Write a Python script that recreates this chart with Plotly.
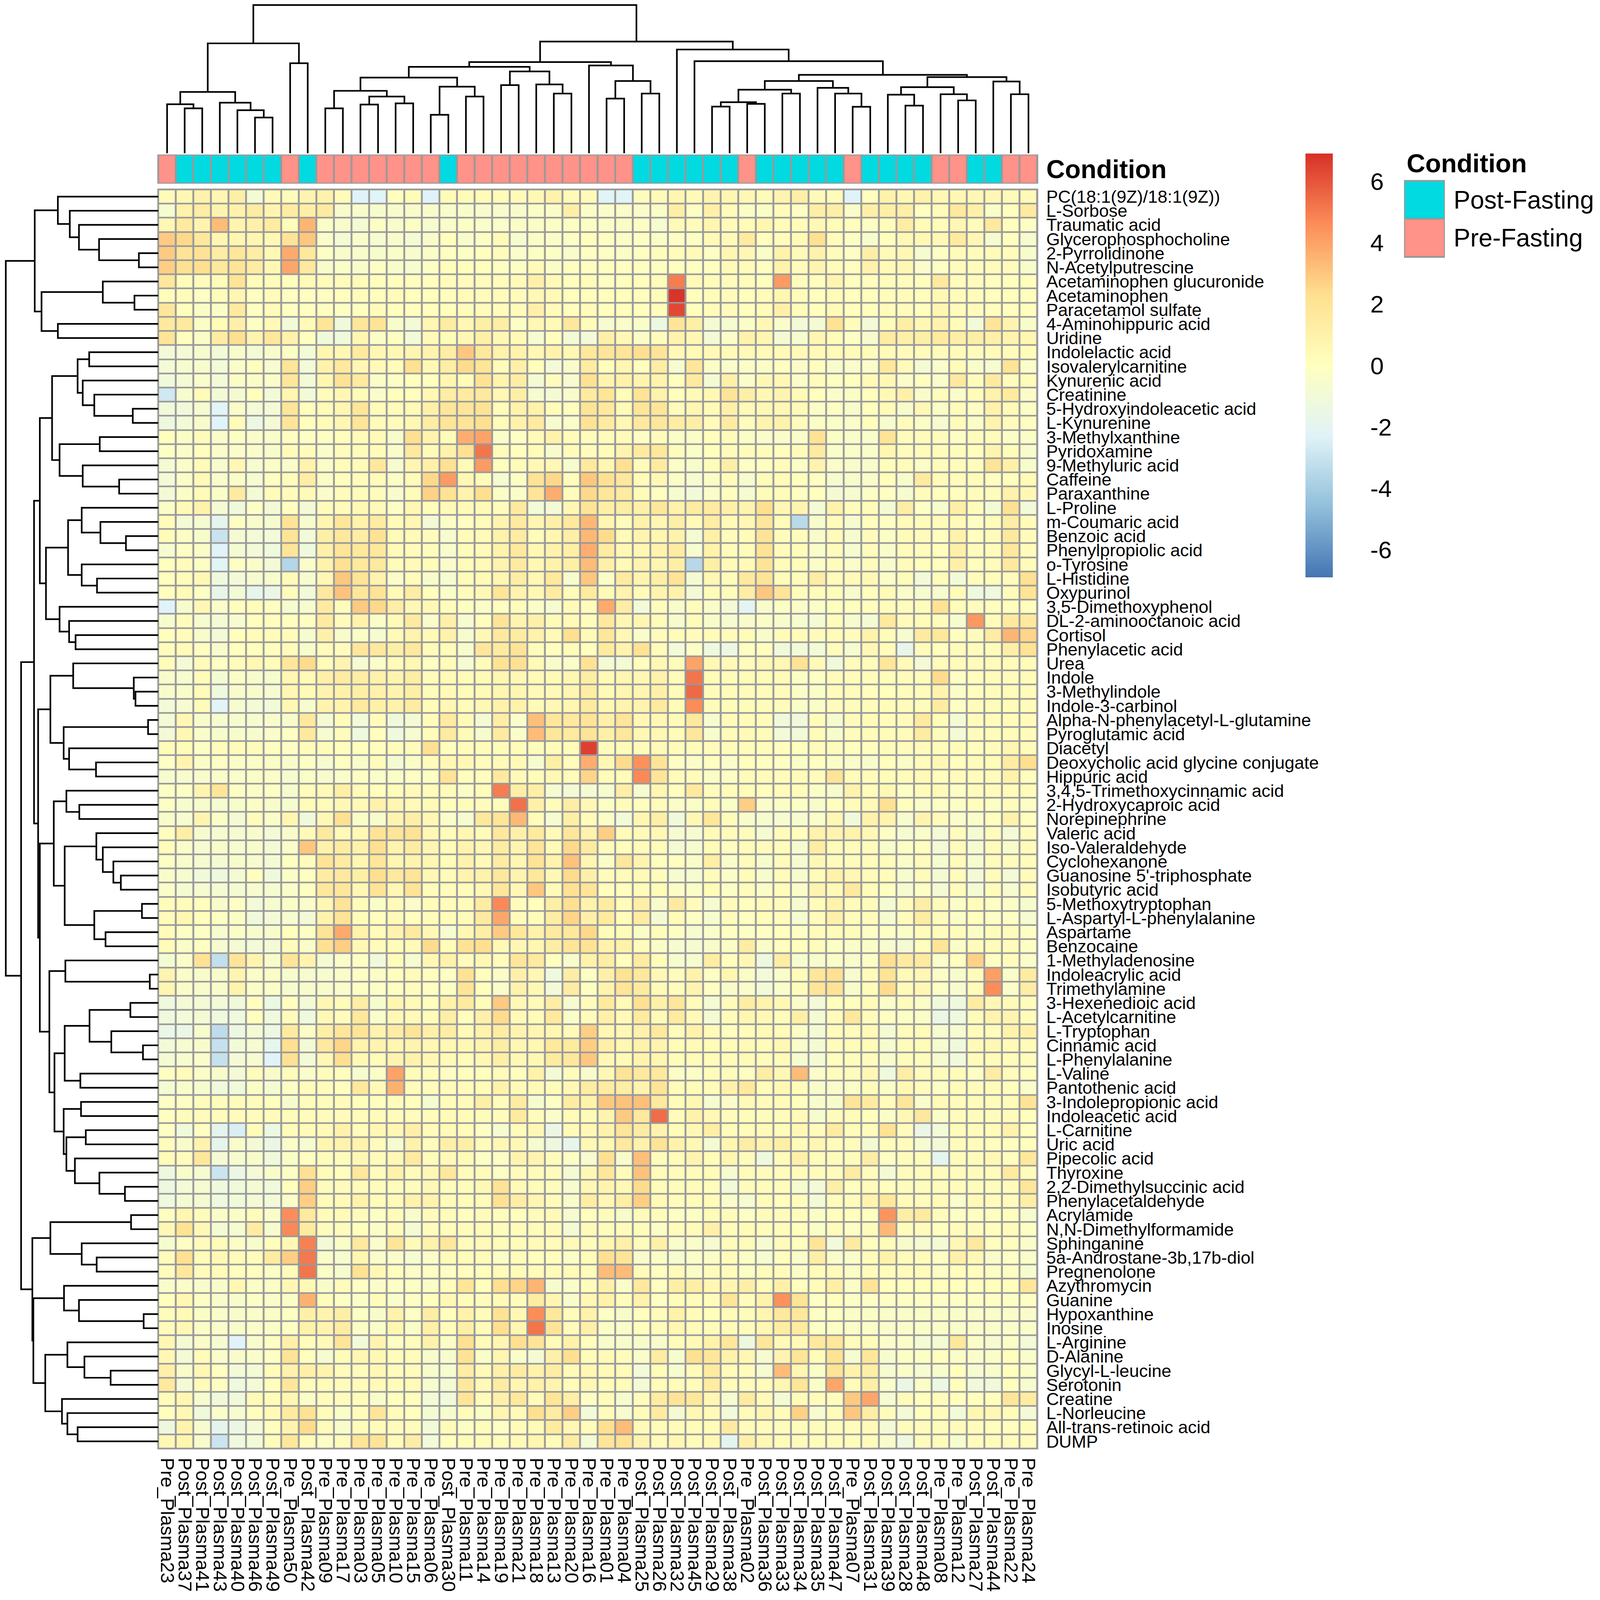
import plotly.graph_objects as go

# reference size, positions below are read in these pixels
W, H = 4316, 4466
# the browser window stops at 4096x4096, so the whole chart is fitted into that
PAGE_W, PAGE_H = 4096, 4096
FONT = "Liberation Sans"
GREY = "#999999"

columns = ["Pre_Plasma23", "Post_Plasma37", "Post_Plasma41", "Post_Plasma43", "Post_Plasma40", "Post_Plasma46", "Post_Plasma49", "Pre_Plasma50", "Post_Plasma42", "Pre_Plasma09",
           "Pre_Plasma17", "Pre_Plasma03", "Pre_Plasma05", "Pre_Plasma10", "Pre_Plasma15", "Pre_Plasma06", "Post_Plasma30", "Pre_Plasma11", "Pre_Plasma14", "Pre_Plasma19",
           "Pre_Plasma21", "Pre_Plasma18", "Pre_Plasma13", "Pre_Plasma20", "Pre_Plasma16", "Pre_Plasma01", "Pre_Plasma04", "Post_Plasma25", "Post_Plasma26", "Post_Plasma32",
           "Post_Plasma45", "Post_Plasma29", "Post_Plasma38", "Pre_Plasma02", "Post_Plasma36", "Post_Plasma33", "Post_Plasma34", "Post_Plasma35", "Post_Plasma47", "Pre_Plasma07",
           "Post_Plasma31", "Post_Plasma39", "Post_Plasma28", "Post_Plasma48", "Pre_Plasma08", "Pre_Plasma12", "Post_Plasma27", "Post_Plasma44", "Pre_Plasma22", "Pre_Plasma24"]

metabolites = ["PC(18:1(9Z)/18:1(9Z))", "L-Sorbose", "Traumatic acid", "Glycerophosphocholine", "2-Pyrrolidinone", "N-Acetylputrescine",
               "Acetaminophen glucuronide", "Acetaminophen", "Paracetamol sulfate", "4-Aminohippuric acid", "Uridine", "Indolelactic acid",
               "Isovalerylcarnitine", "Kynurenic acid", "Creatinine", "5-Hydroxyindoleacetic acid", "L-Kynurenine", "3-Methylxanthine",
               "Pyridoxamine", "9-Methyluric acid", "Caffeine", "Paraxanthine", "L-Proline", "m-Coumaric acid", "Benzoic acid",
               "Phenylpropiolic acid", "o-Tyrosine", "L-Histidine", "Oxypurinol", "3,5-Dimethoxyphenol", "DL-2-aminooctanoic acid", "Cortisol",
               "Phenylacetic acid", "Urea", "Indole", "3-Methylindole", "Indole-3-carbinol", "Alpha-N-phenylacetyl-L-glutamine",
               "Pyroglutamic acid", "Diacetyl", "Deoxycholic acid glycine conjugate", "Hippuric acid", "3,4,5-Trimethoxycinnamic acid",
               "2-Hydroxycaproic acid", "Norepinephrine", "Valeric acid", "Iso-Valeraldehyde", "Cyclohexanone", "Guanosine 5'-triphosphate",
               "Isobutyric acid", "5-Methoxytryptophan", "L-Aspartyl-L-phenylalanine", "Aspartame", "Benzocaine", "1-Methyladenosine",
               "Indoleacrylic acid", "Trimethylamine", "3-Hexenedioic acid", "L-Acetylcarnitine", "L-Tryptophan", "Cinnamic acid",
               "L-Phenylalanine", "L-Valine", "Pantothenic acid", "3-Indolepropionic acid", "Indoleacetic acid", "L-Carnitine", "Uric acid",
               "Pipecolic acid", "Thyroxine", "2,2-Dimethylsuccinic acid", "Phenylacetaldehyde", "Acrylamide", "N,N-Dimethylformamide",
               "Sphinganine", "5a-Androstane-3b,17b-diol", "Pregnenolone", "Azythromycin", "Guanine", "Hypoxanthine", "Inosine", "L-Arginine",
               "D-Alanine", "Glycyl-L-leucine", "Serotonin", "Creatine", "L-Norleucine", "All-trans-retinoic acid", "DUMP"]

# values, one line per metabolite, same order as columns
values = [
[.3,.6,1,.7,1.2,-.8,.4,.2,.8,1,.3,-2.3,-2.2,.1,.3,-2.3,.3,.3,.3,.3,.4,.5,1,.4,.4,-2.2,-2.2,.2,.4,.7,.4,.8,.7,.6,.3,.8,1.2,.4,.3,-2.3,.1,1,.6,1,.5,.6,.6,.6,.4,.4],
[-.7,1,1.3,.8,1,1.4,.8,1.4,1.2,1.5,-.5,-.5,-.5,-.5,-.5,-.5,-.5,-.5,-.5,-.5,-.5,-.3,-.3,1.2,-.3,-.4,-.4,-.4,-.3,1.2,-.2,1.1,.3,-.3,-.3,.2,-.2,1.2,1.2,-.4,1.2,1.2,1.2,-.1,.3,1.6,1.1,-.3,.1,1.5],
[.6,1.5,.8,3.3,.8,1.1,1.4,.2,3.5,-.3,-.5,-.8,-.2,-.5,-.2,-.6,-.4,-.2,-.4,-.4,-.3,-.3,-.2,-.2,-.2,-.3,-.3,-.2,-.7,.4,.2,.7,.3,.3,.7,.3,.2,.5,.3,.1,-.2,.2,1.3,.3,.2,.6,.2,1.6,.1,-.2],
[2.9,2.5,1.7,.7,.7,.7,.5,2,3,-.4,-.8,-.4,-.7,-.5,-.8,-.5,.1,-.5,-.2,.4,-.6,-.3,-.3,-.2,.1,-.1,-.3,-.2,-.3,-.2,-.2,.4,.4,1.5,.1,.2,.4,2.2,.2,-.2,-.5,.1,.5,.5,.5,1.5,.6,-.6,.1,-.6],
[2.9,2,2.1,1.3,1.8,1.3,.5,3.8,1.7,-.2,-.5,-.5,-.5,-.3,-.5,-.3,-.1,-.2,.1,.2,-.4,-.2,-.2,-.5,-.1,-.2,-.3,-.1,.2,.2,.4,-.2,.7,.5,-.3,1,.4,1,.2,-.2,1.2,.4,.6,-.6,-.2,.3,.2,.3,.3,-.5],
[2.8,2.2,2.3,1.7,2,1.4,.5,3.9,1.6,-.5,-.3,-.5,-.2,-.5,-.6,-.2,.1,.1,.1,-.1,-.2,.4,-.3,-.1,-.1,-.1,-.1,-.1,-.1,-.1,-.1,-.1,.4,.2,-.1,1,.2,.8,.2,-.1,1,.4,.6,-.4,-.2,.2,.2,.2,.2,-.5],
[1.7,.3,.2,.3,2,.2,.2,.1,.4,.3,.3,.3,.1,.1,.1,.1,.2,.2,.2,.2,.4,1.1,.4,.1,.3,-.1,.1,.1,.3,5,.4,.2,.3,.3,.1,4.2,.2,.1,.8,.1,.1,.2,.2,.1,1.6,.2,.2,.1,.1,.1],
[.2,.2,-.2,.2,.7,-.1,.2,-.1,-.1,-.1,.1,.2,.1,.2,.1,.1,.1,.3,.2,.2,.2,.5,.4,.1,.1,.1,.1,.1,.2,6.8,.1,.2,.2,.1,.3,.7,.2,.1,.3,.1,.1,.2,.2,.1,.5,.2,.2,.1,.1,.1],
[1.8,.1,-.3,-.3,1.5,-.1,.2,-.1,-.1,-.1,-.2,-.1,.2,.1,.1,.1,.1,.2,.2,.2,.2,1.1,.3,.1,.3,.1,.1,.1,.2,6.3,.1,.2,.2,.1,.3,1.1,.2,.1,.4,.1,.1,.2,.2,.1,.7,.2,.2,.1,.1,.1],
[1.6,1.6,-.3,.3,1.1,-.2,.4,-1,.4,1.9,-1.1,1.8,2,-.5,-.9,.7,1.4,.6,1.2,1.3,-.2,.6,.4,1.7,.3,-.7,-.4,-.4,-1.4,1.9,1.2,-.8,-.7,-.3,.5,-.4,-.9,-.8,2.1,.2,-.9,.3,1.2,.5,.9,.3,-1,1.9,.8,-.5],
[1.9,.1,-.3,1.4,2.3,.8,1.7,1,.1,-1.1,-1.1,.7,-.3,-.1,-1,.4,.3,.5,1.1,.5,.4,-.7,.1,-.9,-1,1.1,.5,-.3,.2,.9,.5,-.9,-.3,1,.7,-.8,-.6,.7,.3,-.2,-.5,1.4,1.1,1.2,1.5,1.2,1.2,1.1,.9,.7],
[-1,-.9,-.6,-1,-.5,-.9,-.5,-.2,-.9,.7,.6,1.5,.6,.5,.7,.8,1.3,3,1.7,1,1,.5,.9,.6,1.7,1.9,1.9,2.3,1.9,.4,.4,.4,.4,.4,.4,.4,.4,.4,.4,.3,.3,.3,.2,.3,.2,.3,.2,.3,.2,.2],
[-.9,-.6,-.5,-1,-.4,.1,-.7,1.9,-1,1,1.6,.6,.4,.2,2.2,.5,1.3,2.4,1.9,.3,1.1,.1,-.9,-.5,1.4,.1,.7,.1,1.3,-.6,1.8,-.3,-.4,-.3,-.3,-.1,-.4,.1,-.5,-.4,-.4,1.7,.3,-.8,-.4,.3,-.4,-.6,2,-.4],
[-1.1,-.9,-.4,-1,-.3,-.3,-.4,1.8,-.9,.7,2.1,1.5,-.3,-.2,.1,.1,.7,.3,2.1,.9,1.3,-.8,.2,-.6,2.2,.8,1,.8,.9,.1,1.5,-.8,1.1,-.4,.5,.5,-.4,.2,-.1,.1,.4,.5,-.4,.1,-.4,1.6,.2,1.5,.2,.3],
[-2.8,-.6,.3,-.9,-.8,.1,-1,.7,-1,.2,.5,.3,-.4,.1,.1,.6,1.3,1.5,1.6,.6,1.2,-.7,-.8,-.5,1.5,1.9,.3,2,1,.1,.4,.5,2,1.2,.5,.8,.4,.1,-.4,-.3,.1,.5,1.1,-.5,.2,-.4,.3,1,1.5,-.4],
[-1.1,-1.1,-.7,-2.2,-.4,-.9,-.9,1.9,.1,.3,.7,1.9,.3,.3,.4,1.1,1.8,1.9,2.1,.3,1,1,.3,.1,2,1.6,.4,1.9,1.9,.2,.7,.4,1.1,.4,.5,.6,.4,-.3,-.2,-.5,.1,.4,-.5,.5,-.3,.2,-.2,1,.4,-.2],
[-1.3,-1,-.5,-2.3,.3,-1.4,-.9,1.9,.1,.3,.7,1.9,.3,.2,.5,1.3,1.9,2,2.3,.3,1,1.5,-.6,-.4,2.1,1.5,.5,1.6,1.8,1.3,1.2,.2,1.4,.2,.8,1,.2,-.3,-.3,-.4,.1,-.6,.2,-.3,-.7,.3,-.3,.9,.2,-.1],
[.1,-.3,.2,-.4,-.2,-.4,-.4,-.1,-.2,-.2,.1,.3,.4,-.5,2.3,.9,.3,3.7,4,-.4,-.2,.4,1,.3,.2,.2,.2,-.2,.2,-.3,-.3,.1,.2,-.3,-.4,-.4,-.4,2.1,-.3,-.4,-.4,2,.2,.2,.2,-.2,.2,.2,-.3,-.3],
[-.2,-.4,.1,-.4,-.4,-.4,-.5,.3,.2,-.4,.2,.3,.3,-.4,1.6,.4,1,2.2,5.2,.3,.1,.3,-.5,.3,.2,.3,.8,1.5,1.7,.2,-.3,.1,.2,.2,.2,.1,.2,1.5,-.4,-.4,-.4,.7,.2,.3,.2,.2,.1,.8,.3,-.5],
[-.8,-.4,.3,-.6,.6,-.7,-.3,-.4,.9,-.3,.3,.3,1.7,-.6,.7,1.1,2.2,.4,4.2,.1,.3,.5,.6,-.6,1.6,.7,2.2,.2,1.5,-.3,-.5,.2,1.2,-.2,-.1,.2,-.3,.9,-.4,-.5,-.5,.2,.3,-.3,.2,.2,.2,2,1.1,-.5],
[-.9,-.3,.4,-.5,-.3,-.7,-.1,.2,1.3,-.3,.1,.2,.3,-.2,.3,2.5,4.2,.6,.3,-.7,-.2,2,2.5,.2,3,2.2,1.7,.3,.5,-.3,-.7,-.3,.2,-.6,.3,.3,.1,-.1,-.6,-.5,-.4,.1,-.5,1.5,.3,.2,.3,-.1,.1,.4],
[-.9,-.3,.3,-.3,1.5,-.9,.3,.2,.4,-.4,.2,.2,.2,-.5,.3,2.7,2.1,.9,2.3,-.3,-.3,1.9,3.7,.2,2.5,1.8,1.5,.3,-.1,-.6,-1,-.4,.1,-.7,.3,.3,-.1,.1,-.8,-.7,-.2,-.1,-.7,.2,.1,.1,.2,.2,1,.5],
[-.3,.4,1,-.8,-1.1,-.2,-.9,.1,-.9,.2,.3,.5,.4,-.2,.6,.3,.4,.4,.4,.2,1.6,-1,-.9,.6,2,1.2,1.3,1.1,1.8,1,1.4,1.5,1.1,.8,2.3,.6,.8,-.8,1,.2,.3,-.8,1.3,-.2,-.6,1.2,.2,-.8,2.2,-1],
[.2,-.9,-.7,-1.9,-.2,-.5,-.7,2,-.6,.7,1.8,1,1.4,.3,.6,-.9,-.3,-.1,.3,.8,1.5,.7,1.1,1.6,3.4,.7,.2,1,.6,1.2,.4,1.3,.4,.6,1.8,.3,-3.4,-.5,.2,-.7,.1,-.2,.3,.2,.2,.4,-.2,.3,1.3,.3],
[.3,-.3,-.5,-3,-.8,-1,-1,2,-1,1.2,1.7,1.3,2.1,.4,.4,.2,-.7,.3,.4,1,1.4,.3,.7,1.2,3.4,2.4,.4,.8,.7,1,-.8,1.1,.3,.3,2,.2,.2,-.5,.3,-.6,.2,-.3,.3,.2,-.1,1,.1,.2,1.6,.2],
[-.6,-.2,-.3,-2.3,-.8,-1,-1.2,1.9,-1.2,1.1,1.9,1.7,1.7,.4,.3,.2,-.5,.3,.4,1,1.6,.5,1,1.2,3.7,1.4,.5,.6,.9,1.4,-.6,1,.3,.3,2.1,.3,.3,-.4,.2,-.7,.2,-.5,.3,.2,.1,1.1,.2,.2,1.7,.2],
[.1,.2,-.2,-2.2,-.2,-.4,-.9,-3.6,-.4,1,2.2,1.6,1.6,.3,.4,.3,-.4,.3,.4,.9,1.5,.5,1,1.2,3.3,1.1,.4,.8,.7,1.2,-3.5,1.2,.4,.4,2,.3,.3,-.3,.2,-.4,.2,-.5,.3,.1,.1,1.1,.1,.3,1.6,.3],
[.1,.2,.5,-1.2,-1,-.7,-.5,.4,-.6,.6,3,2,.9,-.4,.3,-.5,-.6,.3,.4,.7,1.3,.6,1.6,-.6,3,-.4,1.5,.8,1.2,2,-.8,.6,.3,1.6,2,.3,.3,1.3,.3,.4,.5,-.3,.3,-1,.3,-1,.2,.2,.2,2.2],
[.1,.4,-.2,-1.7,-1,-1.8,-1.5,.2,-1,1.6,3.1,1.8,2,.4,1.3,.1,-.3,.2,.5,1.9,.9,.5,1.4,.3,1.5,.4,.9,.3,.8,1,-.9,.3,.2,1.3,3,1.9,.2,.3,.2,-.5,.1,.4,-.4,-.7,-.6,.3,-1.2,-1.2,.2,2],
[-2.3,-.6,.6,-.4,.1,.3,-.1,-.6,-.6,1.5,.2,2.9,2.5,1.3,.5,.5,.2,-.1,-.3,-.1,.2,-.3,-.7,.4,.2,3.8,1.3,-1,.2,-.5,.2,-.4,-.9,-2,-.5,-.2,-.4,-.3,.1,.1,.1,.2,.2,.2,2.1,.3,.2,.1,.1,.1],
[-.6,.2,-.6,-.8,-.6,.1,.1,.1,-.1,1.5,.2,1,-.3,.4,1.5,-.4,1.1,-.7,.1,2,.8,1.1,.4,.4,.2,1.6,.6,.7,.3,-.6,.3,-.5,-.7,-.5,-.3,-.5,-.7,-.8,.2,-.7,-.8,1.6,.3,.3,.2,-.6,4.3,.3,1.6,1.6],
[.1,.2,-.5,-.9,.1,.3,.2,.2,-.6,1.1,-.5,-.3,-.7,.4,.9,.4,1,-.6,.5,1.6,1.4,1,.4,2.3,.4,1.8,.5,-.4,.2,.3,.2,.3,.3,.3,-.5,.3,.3,.2,.3,.2,1,.3,-.7,1.5,1.7,-.1,.2,1.4,3.5,2.6],
[.2,.3,-.1,-.5,.1,.1,.1,.3,-.5,.3,.2,1.8,1.6,1.2,1.6,.3,.3,-.5,1.8,1.5,2,.2,.1,.3,.1,1.5,.9,2.1,.3,-1,-.2,-1.2,-1.4,-.1,.1,-1.1,-1,-1,.2,-.7,.5,.2,-1.7,.2,.1,.2,.2,.2,1.2,2.1],
[.2,-.9,.3,-.2,.2,.6,.2,1.8,2.4,.3,.8,-.7,-.4,.3,.6,-.2,.3,-.7,.3,2.1,2.2,.4,-.5,-.4,2.1,-.8,-.8,.1,.5,.3,4,.5,.4,.2,.6,.6,2.1,.4,-1.1,.2,.2,1.8,.4,-.9,.3,.2,.3,.3,.3,.3],
[-.5,-.7,.3,-.8,-.3,-.5,-.6,.6,.4,1.1,1.4,1.3,1,.8,1.3,.3,.4,.3,.4,.7,.6,.4,.4,.7,1.3,.4,.7,.6,1,.3,5.2,.3,.2,.3,.3,.3,-.3,-.2,.2,.2,.2,.2,.2,.2,2.4,-.2,.1,.2,.2,.3],
[-.5,-.5,.3,-1.2,-.5,-.5,-.7,.6,.4,.9,1,1.2,1,.8,1.2,.3,.4,.3,.4,.7,.7,.4,.4,.7,1.3,.4,.7,.7,1.1,.3,5.5,.2,.2,.2,.2,.2,-.3,-.3,.2,.2,.1,.1,.2,.2,.9,-.3,.1,.2,.3,.3],
[-1,-.7,.3,-2.2,-.7,-.9,-1,.5,-.6,.9,.9,1.5,1.1,1,1.4,.3,.6,.3,.5,1,1,.4,.5,.7,1.5,.5,.8,.8,1.5,.3,4.6,.2,.2,.2,.2,.3,-.3,-.3,.2,.2,.2,.2,.3,.2,1.4,-.2,.2,.3,.3,.3],
[-.9,.6,-.5,-.7,-.6,-.7,-.5,-.5,1.6,-.8,.3,-1,.2,-1.1,-.8,.2,1.5,.4,-.8,1.3,-.4,3.2,1.8,1.6,2,1.1,1.9,.6,.5,.3,1.6,-.6,.2,.3,.3,-1.1,-1.1,.3,-.6,.2,.3,.2,.2,1.5,.3,-.8,.2,.2,.3,.2],
[-.9,.6,-.4,-.5,-.5,-.6,-.4,-.2,1.6,-.7,.2,-1.2,.1,-1.2,-.7,.2,1.5,.4,-.6,1.5,-.4,3.3,1.8,1.5,2,1.1,1.8,.6,.6,.3,1.8,-.6,.3,.4,.3,-1,-1,.3,-.6,.2,.3,.3,.3,1.4,.2,-.9,.2,.2,.3,.2],
[.3,.3,-.2,.2,.2,.2,-.1,-.2,.2,.2,.1,.1,.1,.2,.2,2.2,.1,.2,.2,.3,.2,.2,.3,.3,6.5,.2,.3,.2,.4,.2,.2,.2,.2,.2,.2,.1,.1,.2,.2,.1,.1,.2,.2,.2,.2,.2,.1,.2,.7,.2],
[-.2,.8,-.3,-.2,-.3,-.3,-.3,-.5,-.2,-.7,-.1,-.5,.2,-.8,-.3,.2,.5,.5,.2,.4,.4,-.6,1.2,.3,3.7,.5,2.4,4.5,2,-.2,-.3,-.1,-.4,.1,-.1,-.2,-.3,-.1,-.3,-.4,-.5,.1,-.3,.3,.5,.1,.3,.3,1.4,2.3],
[-.6,-.6,-.5,-.4,-.4,-.3,-.3,-.6,-.3,-.5,-.4,-.2,-.4,-.3,-.2,-.2,2,.1,.1,1.6,.4,.3,.5,.3,2.6,.3,.3,4.7,1.9,.2,.2,-.3,-.2,.2,.3,.2,.3,.2,2,.3,.2,.3,.3,.4,.1,.2,.2,.2,1,.1],
[-.2,-.2,.8,1.9,-.2,-.3,-.2,-.6,.3,.4,1.2,.3,.1,.3,.4,.3,.3,-.3,.3,5,1.2,1.2,-.7,-.9,-.8,-.6,1.2,-.6,.7,.1,1.6,.2,.3,.3,.1,.3,.3,-.3,-.5,1,.3,.5,-.2,.2,.4,-.2,.2,.2,.3,.2],
[-.2,-.6,-.5,-.7,-.5,-.3,-.5,-.6,.3,.3,.5,.4,1,.7,.4,.4,.1,.2,.2,.2,5.3,1.1,.2,1.3,.5,-.2,.2,.1,.2,-.3,-.3,.3,-.3,2.8,-.4,-.3,-.2,-.5,.1,.3,.4,2.2,.1,-.4,-.2,-.2,.1,-.2,.2,-.2],
[-.5,-.7,.8,-.3,-.9,.2,-.4,.7,-1.1,.5,2.2,-.3,-.5,.8,1.2,.6,-.4,-.7,1.7,1.9,3.4,.3,-.7,1.2,.3,-.3,-1,.7,1.2,-1.1,.5,1.8,.3,-.5,-.6,-.7,-.6,-.4,.6,-1.1,1,.9,-.6,.8,.4,-.4,-.4,.1,1,.1],
[.1,1.2,-.6,-.7,-.7,-.5,-.9,-.5,.4,1.6,.4,.5,2,1.9,2.1,.5,.3,.6,.3,1.7,1.1,1.5,.4,1.8,1,2.8,.3,.4,.5,-.7,-.7,.4,.3,.2,-.7,.2,.1,1,.8,1,.5,-.2,-.7,-.4,-.9,.2,-.8,.2,-.9,.2],
[.2,-.4,-.7,-.5,-.7,-.5,-.8,-.4,3,1,1.4,1,2.2,.9,1.4,.7,.3,.8,.6,1.4,.8,1.9,.4,2.5,1.5,.2,.1,.3,.3,-.8,-.6,.3,-.1,.2,.2,.2,-.7,1.3,.3,.2,.2,-.5,-.2,.1,-.9,.2,-.7,.2,-.5,.2],
[-.2,-.5,-.7,-.8,-.5,-.6,-.8,-.1,.2,2,1.4,.7,1.8,.7,.8,.7,.3,1,.4,1.4,.7,2,.9,3.1,.7,-.3,1.7,.8,.1,.1,-.3,1.2,-.4,.2,-.5,.2,-.7,.5,.2,.2,.3,.2,-.4,.2,-.7,.3,-.7,.2,.2,.2],
[-.5,-.7,-1.1,-1.3,-.8,.1,-1.2,-.3,-.1,1.4,1.6,1.2,2.3,1.6,1.9,.6,.3,.9,1,1.7,.8,1.7,.5,2.4,1.1,.2,.3,.4,.2,-.7,-.7,.2,-.3,.3,-.5,.3,-.6,.3,1,.6,.3,.2,-.6,.3,-.8,.2,-.9,.2,-.9,.2],
[-.4,-.8,-.7,-.8,-.8,-.6,-.7,-.4,-.1,1.7,1.8,.6,2,.6,2,.3,.2,.2,.5,1.8,.6,3,.4,2.2,1.9,.1,.1,.3,.3,-.3,-.3,.3,-.2,.2,-.3,.3,-.4,.8,.4,1.6,.3,-.1,-.7,-.2,-.8,.2,-.8,.2,-.7,.2],
[.2,.2,.1,-.5,-.2,-1,-.7,-.3,-.4,.6,2,.2,-.3,.4,-.4,.3,.2,.3,1.4,4.7,.2,.1,1.2,2.3,1,1.4,.3,1.2,-.5,1.5,.2,-.7,.2,.1,.3,.2,-.6,.3,1,.3,.2,-.8,.2,1.3,.2,-.3,.2,-.2,-.3,-.6],
[.3,.6,.1,-.2,-.3,-1.1,-.9,-.7,-.9,.9,2,.2,.1,.4,.1,.2,.2,.3,1.5,3.9,.3,.2,1.3,2.6,1.1,1.5,.3,1.4,-.8,.3,-.2,-.6,.2,-.1,.2,.2,-.7,.2,1.1,.2,.2,-.7,.2,1.4,.2,-.3,.1,-.2,-.2,-.7],
[.2,-.2,-.2,-.6,-.3,-.5,-.5,.1,-.2,2,3.8,1,.3,.9,1.5,.5,-.7,.5,1.2,2.9,1.7,1,1.5,1.7,2.5,.3,.3,-.3,.2,-.2,-.6,-.4,-.1,-.2,-.2,.1,-.2,.2,.3,.2,-.2,-.2,-.3,.2,.2,.2,-.3,.2,.2,-.2],
[.3,-.4,-.1,-.7,-.8,-1,-.9,.2,-.4,2.2,2.8,.5,.3,.3,.4,2.4,.3,2.1,2.3,.5,.5,.6,1.3,1.9,2.1,1,1,.2,-.3,-.7,-.7,-.5,-.3,1.4,-.3,.1,.1,.2,-.2,-.3,-.3,-.7,-.8,.1,1.9,-.3,.2,.3,.2,-.2],
[-.8,-.4,2.1,-3.2,1.9,.8,-.5,1.9,.9,-.8,-.4,-.2,-1.1,.2,-.6,.5,1,.2,.5,.2,1.8,1.5,.1,-.5,1,1.3,.1,1.4,.3,-.6,-.7,1.3,.1,.5,-1.3,1.3,-.6,-.5,-.3,-.5,-.2,2.3,1.5,1.5,-.4,.1,2.7,-.1,.2,-.4],
[.8,-.4,-.5,-.5,.8,-.3,-.3,-.6,-.6,-.6,-.4,-.2,-.3,.1,.3,.1,-.2,2.1,.1,-.3,1.1,.6,-1.2,1.3,-.2,1.1,2.1,1.7,.5,.2,1,-.2,.7,-.3,-1,-.4,.3,1.8,2.2,-.6,.3,2,.4,.6,-.3,-.5,.2,4.1,-.4,1.4],
[.7,-.4,-.5,-.5,.9,-.3,-.3,-.6,-.5,-.5,-.4,-.2,-.2,-.1,.2,-.1,-.2,2,.1,-.4,1,.5,-1,1.4,-.1,.9,1.9,1.5,.4,.2,.8,-.1,-.5,-.4,-1,-.4,.2,1.9,2.1,-.5,.3,2.4,.4,.6,-.2,-.6,.3,4.6,-.4,1.3],
[-1.2,-.9,-.9,-1,-1.1,.1,-1.4,.1,-.9,.6,.3,1.3,-.6,.7,.4,.1,1,1.5,.3,2.9,.5,.4,1.3,-.7,.2,1.5,.4,2.2,1.1,1.8,.3,-.8,.2,1.3,.9,.5,-.4,-1,.1,.1,.3,-.4,.2,-.3,-1.1,-1.2,1.4,.5,.4,.2],
[-1.2,-1,-.8,-1.2,-1.2,.1,-1.2,.2,-1.2,.5,.2,1.7,-.4,.5,.4,.3,1.2,.1,1.1,2.4,.4,.3,1.6,-.3,.2,1.1,.4,1.5,.4,1.5,.4,-.8,.3,.7,.5,.2,1.2,-.8,.2,1.7,.2,-.1,-.2,-.3,-1.5,-1.2,.3,.9,.8,.3],
[-1.6,-1.5,-.5,-3.3,-1.4,-.8,-1.4,1.5,-.3,1.2,1.8,2,.9,1.3,1.9,1.1,1.3,.4,.9,1.4,.8,.7,.7,.4,2.8,.6,.5,1,1.6,.2,1,.3,.1,.2,.4,.3,-.3,-.8,.2,.2,.4,-.8,.3,.3,-.7,-.7,.2,.2,1,1.1],
[-1,-.7,-.5,-3.1,-1,-.7,-1.8,2.3,-.9,1.6,2.6,.9,.8,.7,.8,.6,.5,.5,.8,1.3,.6,.6,1.6,1.5,2.8,1.1,.6,1,.8,.3,.4,.3,.3,.4,.3,.6,-.4,-.8,.2,.3,.3,-.7,.3,.3,-.6,-1.1,.4,.5,.4,.3],
[-.8,-.6,-.4,-3.1,-.9,-.7,-2.3,2.2,-.9,.6,2.3,.5,.3,.8,1,.5,.4,.3,.5,1.2,.5,.5,1.5,1.7,3,.5,.4,.8,.7,.2,.3,.3,.3,.4,.2,.3,-.6,-.8,.1,.2,.2,-.5,.2,.2,-.6,-1.1,.3,.3,.3,.2],
[-.1,.3,-.3,-.5,-.9,.3,-.5,.2,-.4,.2,.1,-.6,-.3,4,.3,.2,-.2,.1,.1,.3,.1,1,-.9,.2,-.5,.5,2,1.6,1.6,-.3,-.3,.2,.2,-.1,1.3,.5,3.3,-.4,.2,.2,.5,-1.2,1.3,.2,.2,.2,-.2,1.3,.2,.1],
[-.8,-.5,-.6,-1.1,-1.1,-.3,-.8,-.2,.2,.2,.1,1.7,.4,3.6,.2,.2,.2,.2,.3,1,.4,.4,.2,.5,1.4,1.4,1.3,.9,2,.2,.3,.3,1,1.6,.2,.5,.3,-.5,-.4,-.3,.2,-.3,.5,.2,-.2,.2,.2,.3,.1,-.4],
[-.2,-.2,.2,.2,.2,.2,.1,-.6,.2,.2,.2,.1,-.1,.2,.1,-.7,.2,.3,1.2,.2,1.4,-.6,-.2,1.4,1,3,3.1,3.2,1.6,.3,.5,-.7,-.4,.4,.2,.3,.1,-.5,-.5,1.9,1.5,.3,1.8,-.4,.4,.2,.3,.2,.3,2],
[-.1,.2,.2,.2,.2,.2,.2,.2,.2,.2,.2,.2,.2,.2,.2,.2,.3,.3,.2,.2,1.5,.2,-.4,.3,.4,.8,2.9,1.6,5.4,.2,1,.5,.2,.3,.2,.2,.4,-.6,.2,.3,.1,-.3,.5,1.7,-.3,.2,.2,.2,.2,.1],
[-.2,-1.1,-.1,-1.9,-2.5,.2,-1.4,.3,.4,.4,1,.2,.6,.6,1.1,.3,.4,.3,-.2,-.7,.3,.5,-1.5,.4,.5,1,1.9,1.4,.9,.3,.5,1.2,.3,.3,.4,.3,.5,.2,1.4,.3,.2,2.1,.2,-1.5,-1,.2,.2,.3,1,.1],
[.2,-.5,.9,-1.8,-.5,-.9,-1.5,-.4,-.7,.7,.9,.9,.2,-.7,1,.2,1.1,1.2,.2,.5,.5,-.7,-1.3,-1.8,.6,.6,1.6,1,2,1,.5,-.8,.7,1.3,.8,1.2,.3,.7,.2,.2,-.8,.2,.2,-.7,-1,.2,.2,.1,.1,.1],
[.3,.2,1.7,-.8,-.6,-.5,-1.1,-.3,-.1,.2,.2,.5,.2,.5,1.5,.3,.4,.4,-.2,-.2,.8,.8,.2,-.2,-.7,2.2,-.5,3.2,.2,.3,.8,.3,.7,.2,-1.2,.3,1.1,.3,.2,.2,1.3,-.2,.2,.3,-1.9,.2,.2,.5,.1,1.7],
[-1.3,-.5,-.7,-2.9,-1.5,-.9,-.5,-.2,2.2,.3,.1,1.7,.2,1,.2,.5,1.7,.2,.3,-.2,.2,.2,.2,-.8,.5,1.8,.2,3.1,.3,.2,.2,.3,-.7,.3,.2,.2,.2,.2,.2,1.4,.2,-.8,.2,.2,.2,.2,.2,.2,1.5,.2],
[-1.3,-.9,-.7,-1.2,-1.1,-.8,-1.1,.1,2.8,.2,.2,.3,.2,.2,.2,.5,.2,.2,.5,2.1,.4,.3,.2,-.6,.6,.8,.5,2.4,.3,.2,.3,.2,-1,.2,.2,.2,-.6,-1,1.2,.1,.3,.1,.2,.2,.2,.2,.2,.2,.2,1.8],
[-1.2,-.8,-.8,-1.2,-1.1,-.9,-1,-.4,2.8,.3,.4,1,.3,.4,1,.9,.3,.3,.3,2.2,1.3,.7,.2,-.5,1.3,.6,1.2,2.8,.4,.2,.3,.3,-.4,-.7,.2,.1,.2,-.9,.2,.2,.9,1.7,.3,.2,.4,-.4,.4,.2,.2,1.2],
[-.1,.7,.2,-.4,-.3,.3,-.4,4.6,1.6,.2,.3,.2,-.2,.2,-.5,.2,.3,-.1,.2,.2,.1,.2,.4,-.7,.1,.2,-.5,.3,.2,-.2,-.2,.3,.2,-.2,.3,.2,.2,-.3,.1,.1,-.1,4.4,1.2,1.5,.2,-.2,-.1,-.1,.1,-.6],
[.5,2.1,.5,-.8,-.7,1.4,-.6,4.7,1.5,.2,.2,.1,-.3,.2,-.8,.2,.2,.2,.3,.2,.2,.3,.4,-.8,.4,.2,.2,.2,-.3,.3,.3,1.1,.2,.4,.2,.3,.1,-.3,.3,-.2,.2,3.4,.2,.2,.1,.2,.2,.1,.2,-.2],
[-.6,-.2,.2,.3,-.3,-.5,.1,.5,4.9,-.9,-.3,1.6,-.4,1.9,.4,1,1.7,.2,.4,.3,.3,.4,.3,.4,.2,.7,1.1,.2,1.1,-.4,-.4,-.7,.2,.3,-.7,.2,.1,1.9,-1,1.5,.1,.3,-.5,-.7,-.8,.5,1.6,.1,.1,-.4],
[.3,2.2,.3,.5,.3,.2,1.4,2.8,5.1,-.4,-.6,.7,-.4,-.4,-.7,-.4,.3,.3,.3,-.3,.2,.1,.1,-.3,.3,2.2,1.9,-.5,-.3,-.6,-.3,-.3,.2,-.2,-.7,.1,-.4,1.2,-.4,-.4,.2,1,.3,.2,-.2,1.1,.5,-.5,-.2,-.4],
[.2,1.7,.2,.3,.1,.1,-.3,.2,5.2,-.3,-.6,2.1,.5,.1,-.3,-.2,-.2,.1,.1,.3,.3,.3,.3,.4,.2,3.3,3.3,.3,-.1,.3,-.3,.2,.2,-.2,.2,.2,-.3,.3,.3,-.3,.2,.2,.2,.2,-.2,.1,.1,-.2,-.2,-.6],
[-.5,-.4,-.5,-.5,.6,-.3,-.3,.5,.5,-.5,.2,-.2,-.4,-.2,-.2,-.3,.2,1.9,.1,2.3,2.6,3.5,-.6,-.4,.2,1.1,-.4,1.6,-.1,1.2,1.2,.6,.7,1.2,.3,1.1,.1,.2,1.2,-.3,1.9,.1,.1,.1,.1,.1,.1,.1,.1,1.8],
[.1,.6,-.2,-.5,-.5,-.2,-.4,-.3,3.6,.3,-.2,-.3,.2,-.4,-.2,.1,.5,.2,.2,.4,.2,1.4,.7,-.5,.6,1,.2,1,-.2,.3,.3,.2,1.9,.2,1,4.5,2,-.2,.1,-.2,-.2,-.2,-.2,-.2,-.2,-.2,-.2,-.2,-.2,-.2],
[.2,.4,-.3,-.4,-.5,-.4,-.3,-.2,1.1,.9,1.2,-.2,-.5,1,-.2,1.3,.1,1,.2,2.1,.6,4.6,1.7,.2,1,-.2,-.5,.1,.2,1,.3,.1,.3,.2,.7,1.6,1.7,-.2,-.1,-.3,-.3,-.4,-.4,-.3,-.3,-.4,-.4,-.4,-.4,-.4],
[.2,.5,-.3,-.4,-.5,-.4,-.3,-.2,1,.8,1.4,-.3,-.4,.7,-.3,1.1,.2,1.2,.2,2.3,.7,5.2,2,.2,1.1,-.3,-.4,.1,.2,.6,.3,.2,.3,.2,.6,1.3,1.5,-.2,-.2,-.3,-.3,-.4,-.4,-.3,-.3,-.4,-.4,-.4,-.4,-.4],
[.6,-.8,-.3,-.7,-2.3,-.5,-.2,1.1,.2,.4,1.9,-1,.8,-.2,.2,1,-.3,2.3,.3,.7,2.3,1.9,.3,1,.1,-.5,-.5,-.5,-.5,.2,.4,1,1.7,-1.3,1.8,.4,.4,1.6,1.8,.2,.2,-.4,-.4,-.8,-.8,1.7,-.3,-.7,-.3,-1],
[.6,-.9,.3,-.4,-.5,-.4,-.2,2,.1,-.7,.3,.7,.5,.2,.3,-.5,-.6,2.1,-.3,.7,-.4,-.8,1.1,2.3,.3,.4,.2,-.4,1.4,-.6,2.2,1.8,1,.6,-.7,.8,1.9,.3,2.1,-.7,1.8,-.6,-.2,-.2,.1,-.3,-.4,-.3,.1,-.4],
[1.1,-.5,.6,-.1,-1,-.9,.3,1,1.1,.9,.3,.2,.5,.2,.2,-.5,-.6,1.3,.4,1.1,1.4,1,1.3,.4,.6,.4,.3,-1,.3,-.6,.3,1.5,.3,.2,-.7,3.3,.7,-.3,2,1,1.2,-.7,-.3,-.7,-.5,.1,-.7,-.5,.1,-.3],
[1.6,-.9,.3,-.1,-1.2,-.9,.1,1.8,.2,.3,.2,.3,.4,.2,.4,-.6,-.8,1.7,.4,1.4,.7,1,.8,.3,.5,.3,.3,-.9,.3,.3,.3,1.4,.3,.2,.3,.7,1.9,-.3,3.9,.3,1.2,-.4,-1.5,-.3,-1.4,.1,-1.1,-1.1,.1,-.6],
[.3,.7,-.6,-1.1,-1.1,.4,.3,.7,-.3,.2,.2,.2,-.5,.1,.1,-.9,-1.1,1.9,.3,1.1,1.7,.3,1.9,1.2,-.2,.3,-.6,.2,1.4,2,1.7,.6,-.7,1.5,.4,-.8,.3,.2,.2,2.9,3.9,-.7,.3,.1,.2,.1,.1,.1,1.9,1.4],
[.1,.6,-1.1,-.4,-.6,.1,.4,1.5,2.1,.3,-.3,.2,1.9,.3,.1,-.8,-.6,.3,-.3,.7,.4,2.3,1.4,2.8,-1,.2,-.6,.3,1.5,-.8,.6,.4,-1,.3,.7,.2,2.7,-.7,.3,3,1.3,.2,-.9,.1,.2,-1,.7,.6,.3,-.9],
[-1.3,.9,-.6,-1.9,-1.5,-.9,.1,.8,2.4,.3,-.5,.3,.2,.2,.2,-1,.3,-.2,.2,-.2,.3,.4,1.5,.6,.3,2.3,3.3,.4,.3,.3,.2,.3,1.5,.2,.2,.2,.2,.2,.2,.2,.4,-.9,.2,.2,.2,.2,.2,.1,.1,.2],
[.5,.7,-.5,-2.9,-1.2,-1,.2,1.7,.2,-.2,.2,1.9,2,.3,1.3,-1,.1,.3,.2,.2,.4,.7,.3,1.4,-.9,1.9,2.1,.8,.3,.6,.3,.5,-2,1.1,.6,.3,.3,.2,.2,.2,.2,-.5,-1.2,.2,.2,-.6,.2,.2,.2,.2],
]
for i, row in enumerate(values):
    assert len(row) == len(columns), (i, len(row))

condition = [1 if c.startswith("Pre") else 0 for c in columns]
legend_labels = ["Post-Fasting", "Pre-Fasting"]
bar_ticks = [-6, -4, -2, 0, 2, 4, 6]

# dendrograms: (left, right, merge height), a bare int is a leaf
c_left = (((0, (1, 2, 197), 215), (3, (4, (5, 6, 157), 189), 222), 269), (7, 8, 395), 482)
c1 = ((9, 10, 197), ((11, 12, 214), (13, 14, 219), 249), 274)
c2 = ((15, 16, 169), (17, 18, 249), 292)
c4 = ((19, 20, 299), (21, (22, 23, 262), 302), 359)
c6 = (24, ((25, 26, 240), (27, 28, 262), 317), 385)
c7 = (((c1, c2, 332), c4, 379), c6, 400)
c8 = (((31, 32, 205), (33, 34, 217), 224), (35, 36, 262), 279)
c9 = (37, (38, (39, 40, 204), 262), 287)
c11 = ((41, (42, 43, 209), 257), (44, (45, 46, 232), 259), 290)
c12 = (47, (48, 49, 259), 315)
c14 = ((c8, c9, 317), (c11, c12, 334), 344)
c16 = (29, (30, c14, 404), 455)
col_tree = (c_left, (c7, c16, 490), 650)

r_top = ((0, (1, (2, (3, (4, 5, 57), 174), 233), 260), 295), ((6, (7, 8, 70), 163), (9, 10, 295), 343), 363)
r1 = ((11, 12, 203), (13, (14, (15, 16, 75), 188), 222), 237)
r2 = ((17, 18, 172), (19, (20, 21, 115), 222), 290)
r4 = ((22, (23, (24, 25, 95), 170), 225), (26, (27, 28, 180), 225), 265)
r5 = (29, (30, (31, 32, 243), 262), 290)
r7 = ((r1, r2, 312), (r4, r5, 330), 348)
r8 = ((33, (34, (35, 36, 67), 72), 250), ((37, 38, 30), (39, (40, 41, 183), 262), 278), 317)
r9 = ((42, (43, 44, 232), 270), ((45, (46, (47, (48, 49, 110), 132), 163), 182), ((50, 51, 48), (52, 53, 155), 188), 275), 307)
r10 = (54, (55, 56, 25), 273)
r11 = (((57, 58, 82), (59, (60, 61, 45), 138), 202), (62, 63, 229), 275)
r12 = ((64, 65, 227), ((66, 67, 213), (68, (69, (70, 71, 98), 173), 245), 270), 278)
r16 = (r8, (r9, (r10, (r11, r12, 305), 320), 348), 353)
r18 = ((72, 73, 80), (74, (75, 76, 181), 225), 317)
r19 = (77, (78, (79, 80, 43), 233), 277)
r22 = ((81, (82, (83, 84, 140), 217), 267), (85, (86, (87, 88, 237), 267), 283), 332)
r24 = (r18, (r19, r22, 367), 370)
row_tree = (r_top, ((r7, r16, 365), r24, 403), 448)


def walk(node, pos, hgt):
    # returns leaf position and height of a node, adds its three segments
    if isinstance(node, int):
        return node, 0
    a, ha = walk(node[0], pos, hgt)
    b, hb = walk(node[1], pos, hgt)
    h = node[2]
    pos += [a, a, b, b, None]
    hgt += [ha, h, h, hb, None]
    return (a + b) / 2, h


def xdom(a, b):
    return [a / W, b / W]


def ydom(a, b):
    return [1 - b / H, 1 - a / H]


HM_L, HM_R, HM_T, HM_B = 427, 2798, 529, 4043
colorscale = [[0, "#4575B4"], [1 / 6, "#91BFDB"], [2 / 6, "#E0F3F8"], [3 / 6, "#FFFFBF"],
              [4 / 6, "#FEE090"], [5 / 6, "#FC8D59"], [1, "#D73027"]]
cond_scale = [[0, "#00DAE0"], [1, "#FF9289"]]

fig = go.Figure()

fig.add_trace(go.Heatmap(z=values, x=list(range(len(columns))), y=list(range(len(metabolites))),
                         colorscale=colorscale, zmin=-6.9, zmax=6.9, xgap=4.7, ygap=4.1,
                         colorbar=dict(x=3522 / W, xanchor="left", xpad=0, ypad=0, y=1 - 429 / H, yanchor="top",
                                       len=(1612 - 429) / H, lenmode="fraction", thickness=70, outlinewidth=0,
                                       tickmode="array", tickvals=bar_ticks, ticktext=[str(t) for t in bar_ticks],
                                       ticks="outside", ticklen=84, tickcolor="rgba(0,0,0,0)",
                                       tickfont=dict(family=FONT, size=62, color="black"))))

fig.add_trace(go.Heatmap(z=[condition], x=list(range(len(columns))), y=[0], xaxis="x2", yaxis="y2",
                         colorscale=cond_scale, zmin=0, zmax=1, xgap=4.7, showscale=False))

pos, hgt = [], []
walk(col_tree, pos, hgt)
fig.add_trace(go.Scatter(x=pos, y=hgt, mode="lines", xaxis="x3", yaxis="y3", showlegend=False,
                         line=dict(color="black", width=4.2)))

pos, hgt = [], []
walk(row_tree, pos, hgt)
fig.add_trace(go.Scatter(x=hgt, y=pos, mode="lines", xaxis="x4", yaxis="y4", showlegend=False,
                         line=dict(color="black", width=4.2)))

fig.add_trace(go.Heatmap(z=[[0], [1]], x=[0], y=[0, 1], xaxis="x5", yaxis="y5",
                         colorscale=cond_scale, zmin=0, zmax=1, ygap=4, showscale=False))

hidden = dict(visible=False, showgrid=False, zeroline=False)
col_range = [-0.5, len(columns) - 0.5]
row_range = [len(metabolites) - 0.5, -0.5]

fig.update_layout(
    width=PAGE_W, height=PAGE_H, margin=dict(l=0, r=0, t=0, b=0, autoexpand=False),
    paper_bgcolor="white", plot_bgcolor="white", showlegend=False,
    font=dict(family=FONT, color="black"),
    xaxis=dict(domain=xdom(HM_L, HM_R), range=col_range, showgrid=False, zeroline=False,
               tickmode="array", tickvals=list(range(len(columns))), ticktext=columns, tickangle=90,
               ticks="outside", ticklen=13, tickcolor="rgba(0,0,0,0)", tickfont=dict(family=FONT, size=49)),
    yaxis=dict(domain=ydom(HM_T, HM_B), range=row_range, side="right", showgrid=False, zeroline=False,
               tickmode="array", tickvals=list(range(len(metabolites))), ticktext=metabolites,
               ticks="outside", ticklen=13, tickcolor="rgba(0,0,0,0)", tickfont=dict(family=FONT, size=45)),
    xaxis2=dict(domain=xdom(HM_L, HM_R), range=col_range, anchor="y2", **hidden),
    yaxis2=dict(domain=ydom(434, 510), range=[-0.5, 0.5], anchor="x2", side="right", showgrid=False, zeroline=False,
                tickmode="array", tickvals=[0], ticktext=["<b>Condition</b>"],
                ticks="outside", ticklen=9, tickcolor="rgba(0,0,0,0)", tickfont=dict(family=FONT, size=66)),
    xaxis3=dict(domain=xdom(HM_L, HM_R), range=col_range, anchor="y3", **hidden),
    yaxis3=dict(domain=ydom(0, 428), range=[0, 672], anchor="x3", **hidden),
    xaxis4=dict(domain=xdom(0, HM_L), range=[465, 0], anchor="y4", **hidden),
    yaxis4=dict(domain=ydom(HM_T, HM_B), range=row_range, anchor="x4", **hidden),
    xaxis5=dict(domain=xdom(3790, 3895), range=[-0.5, 0.5], anchor="y5", **hidden),
    yaxis5=dict(domain=ydom(505, 717), range=[1.5, -0.5], anchor="x5", side="right", showgrid=False, zeroline=False,
                tickmode="array", tickvals=[0, 1], ticktext=legend_labels,
                ticks="outside", ticklen=11, tickcolor="rgba(0,0,0,0)", tickfont=dict(family=FONT, size=64)),
    annotations=[dict(text="<b>Condition</b>", xref="paper", yref="paper", x=3792 / W, y=1 - 456 / H,
                      xanchor="left", yanchor="middle", showarrow=False, font=dict(family=FONT, size=66))],
)

# grey behind the gaps of the three cell blocks
for xref, yref in [("x domain", "y domain"), ("x2 domain", "y2 domain"), ("x5 domain", "y5 domain")]:
    fig.add_shape(type="rect", xref=xref, yref=yref, x0=0, x1=1, y0=0, y1=1, layer="below",
                  fillcolor=GREY, line=dict(color=GREY, width=5))

fig.write_html("out.html", config={"displayModeBar": False}, post_script="document.body.style.margin='0'")
